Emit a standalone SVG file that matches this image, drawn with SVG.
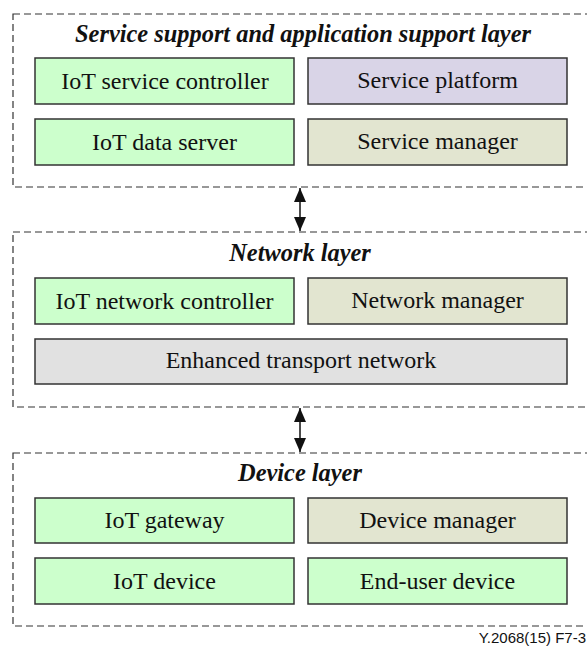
<svg xmlns="http://www.w3.org/2000/svg" width="587" height="648" viewBox="0 0 587 648">
<defs>
<style>
.layer{fill:none;stroke:#333;stroke-width:1.2;stroke-dasharray:7,4}
.box{stroke:#333;stroke-width:1.5}
.g{fill:#ccffcc}.p{fill:#d9d4e7}.o{fill:#e2e5d0}.gr{fill:#e1e1e1}
.t{font-family:"Liberation Serif","Times New Roman",serif;font-size:24px;fill:#111;text-anchor:middle}
.h{font-family:"Liberation Serif","Times New Roman",serif;font-size:24.4px;font-weight:bold;font-style:italic;fill:#111;text-anchor:middle}
.lbl{font-family:"Liberation Sans",Arial,sans-serif;font-size:15px;fill:#111;text-anchor:end}
.conn{stroke:#111;stroke-width:1.5;fill:none;marker-start:url(#ah);marker-end:url(#ah)}
</style>
<marker id="ah" viewBox="0 0 14 12" refX="14" refY="6" markerWidth="14" markerHeight="12" markerUnits="userSpaceOnUse" orient="auto-start-reverse">
<path d="M0,0 L14,6 L0,12 Z" fill="#111"/>
</marker>
</defs>
<rect width="587" height="648" fill="#fff"/>
<g id="service-layer">
<rect class="layer" x="13" y="14" width="600" height="173"/>
<text class="h" x="303" y="42">Service support and application support layer</text>
</g>
<g id="iot-service-controller"><rect class="box g" x="35" y="58" width="259" height="46"/><text class="t" x="165" y="89">IoT service controller</text></g>
<g id="service-platform"><rect class="box p" x="308" y="58" width="259" height="46"/><text class="t" x="437.5" y="87.5">Service platform</text></g>
<g id="iot-data-server"><rect class="box g" x="35" y="119" width="259" height="46"/><text class="t" x="164.5" y="150">IoT data server</text></g>
<g id="service-manager"><rect class="box o" x="308" y="119" width="259" height="46"/><text class="t" x="437.5" y="148.5">Service manager</text></g>

<g id="network-layer">
<rect class="layer" x="13" y="232" width="600" height="175"/>
<text class="h" x="300" y="261">Network layer</text>
</g>
<g id="iot-network-controller"><rect class="box g" x="35" y="278" width="259" height="46"/><text class="t" x="164.5" y="309">IoT network controller</text></g>
<g id="network-manager"><rect class="box o" x="308" y="278" width="259" height="46"/><text class="t" x="437.5" y="307.5">Network manager</text></g>
<g id="enhanced-transport-network"><rect class="box gr" x="35" y="339" width="532" height="45"/><text class="t" x="301" y="368">Enhanced transport network</text></g>

<g id="device-layer">
<rect class="layer" x="13" y="453" width="600" height="173"/>
<text class="h" x="300" y="481">Device layer</text>
</g>
<g id="iot-gateway"><rect class="box g" x="35" y="498" width="259" height="45"/><text class="t" x="164.5" y="528">IoT gateway</text></g>
<g id="device-manager"><rect class="box o" x="308" y="498" width="259" height="45"/><text class="t" x="437.5" y="528">Device manager</text></g>
<g id="iot-device"><rect class="box g" x="35" y="558" width="259" height="46"/><text class="t" x="164.5" y="589">IoT device</text></g>
<g id="end-user-device"><rect class="box g" x="308" y="558" width="259" height="46"/><text class="t" x="437.5" y="589">End-user device</text></g>

<g id="connectors">
<line class="conn" x1="300" y1="188" x2="300" y2="231"/>
<line class="conn" x1="300" y1="408" x2="300" y2="452"/>
</g>
<text class="lbl" x="586" y="643">Y.2068(15) F7-3</text>
</svg>
